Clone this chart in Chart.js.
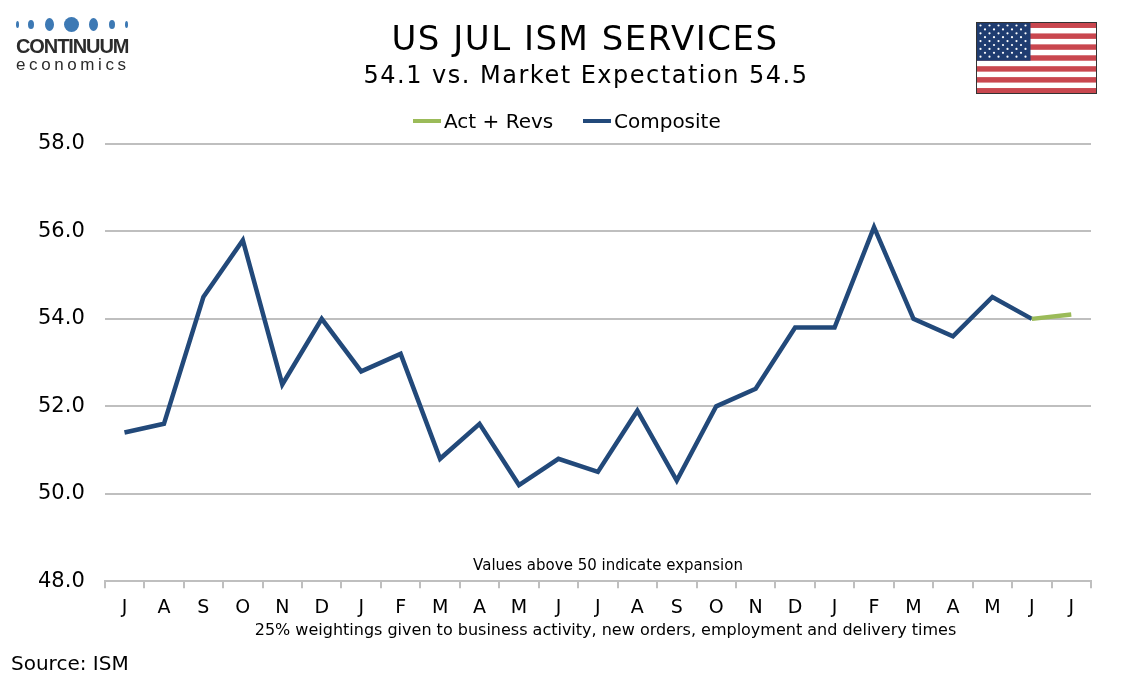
<!DOCTYPE html>
<html lang="en">
<head>
    <meta charset="UTF-8">
    <title>US JUL ISM SERVICES</title>
    <style>
        * {
            margin: 0;
            padding: 0;
            box-sizing: border-box;
        }

        body {
            width: 1134px;
            height: 680px;
            background: #ffffff;
            font-family: 'DejaVu Sans', Verdana, sans-serif;
            color: #000000;
            position: relative;
            overflow: hidden;
        }

        #grafico {
            position: absolute;
            left: 0;
            top: 0;
        }

        .txt {
            position: absolute;
            white-space: nowrap;
        }

        #titulo {
            left: 0;
            width: 1170px;
            top: 18px;
            text-align: center;
            font-size: 34px;
            letter-spacing: 1.5px;
        }

        #subtitulo {
            left: 0;
            width: 1172px;
            top: 61px;
            text-align: center;
            font-size: 24px;
            letter-spacing: 1.5px;
        }

        #legenda {
            position: absolute;
            top: 109px;
            left: 0;
            width: 1134px;
            height: 26px;
            font-size: 20px;
        }

        #legenda .item {
            position: absolute;
            top: 0;
            white-space: nowrap;
        }

        #legenda .linha {
            display: inline-block;
            width: 28px;
            height: 4px;
            vertical-align: middle;
            margin-right: 3px;
            position: relative;
            top: -2px;
        }

        #expansao {
            left: 0;
            width: 1216px;
            top: 556px;
            text-align: center;
            font-size: 15px;
        }

        #pesos {
            left: 0;
            width: 1211px;
            top: 620px;
            text-align: center;
            font-size: 16px;
        }

        #fonte {
            left: 11px;
            top: 651px;
            font-size: 20px;
        }

        #logo {
            position: absolute;
            left: 16px;
            top: 15px;
            width: 112px;
        }

        .pontos {
            position: relative;
            height: 20px;
        }

        .pontos span {
            position: absolute;
            background: #3d79b4;
            border-radius: 50%;
        }

        .marca {
            font-family: 'Liberation Sans', Arial, sans-serif;
            font-weight: bold;
            font-size: 20px;
            color: #2b2b2b;
            letter-spacing: -1.1px;
            line-height: 20px;
            margin-top: 1px;
        }

        .economics {
            font-family: 'Liberation Sans', Arial, sans-serif;
            font-size: 17px;
            color: #2b2b2b;
            letter-spacing: 3.6px;
            line-height: 18px;
        }

        #bandeira {
            position: absolute;
            left: 976px;
            top: 22px;
        }
    </style>
    <script src="https://cdn.jsdelivr.net/npm/chart.js"></script>
</head>
<body>
    <canvas id="grafico" width="1134" height="680"></canvas>

    <div id="logo">
        <div class="pontos">
            <span style="left:0px;top:6px;width:3px;height:7px;"></span>
            <span style="left:12px;top:5px;width:6px;height:9px;"></span>
            <span style="left:29px;top:3px;width:9px;height:13px;"></span>
            <span style="left:48px;top:2px;width:15px;height:15px;"></span>
            <span style="left:73px;top:3px;width:9px;height:13px;"></span>
            <span style="left:93px;top:5px;width:6px;height:9px;"></span>
            <span style="left:109px;top:6px;width:3px;height:7px;"></span>
        </div>
        <div class="marca">CONTINUUM</div>
        <div class="economics">economics</div>
    </div>

    <canvas id="bandeira" width="121" height="72"></canvas>

    <div class="txt" id="titulo">US JUL ISM SERVICES</div>
    <div class="txt" id="subtitulo">54.1 vs. Market Expectation 54.5</div>
    <div id="legenda"></div>
    <div class="txt" id="expansao">Values above 50 indicate expansion</div>
    <div class="txt" id="pesos">25% weightings given to business activity, new orders, employment and delivery times</div>
    <div class="txt" id="fonte">Source: ISM</div>

    <script>
        // meses: jul/2023 ... jul/2025 (iniciais)
        const meses = ['J', 'A', 'S', 'O', 'N', 'D', 'J', 'F', 'M', 'A', 'M', 'J',
                       'J', 'A', 'S', 'O', 'N', 'D', 'J', 'F', 'M', 'A', 'M', 'J', 'J'];

        const composto = [51.4, 51.6, 54.5, 55.8, 52.5, 54.0, 52.8, 53.2, 50.8, 51.6, 50.2, 50.8,
                          50.5, 51.9, 50.3, 52.0, 52.4, 53.8, 53.8, 56.1, 54.0, 53.6, 54.5, 54.0, null];

        const atualRevs = [null, null, null, null, null, null, null, null, null, null, null, null,
                           null, null, null, null, null, null, null, null, null, null, null, 54.0, 54.1];

        const ticksY = [48, 50, 52, 54, 56, 58];

        // bandeira dos EUA
        const fc = document.getElementById('bandeira').getContext('2d');
        const fw = 120, fh = 71;
        const faixa = fh / 13;
        for (let i = 0; i < 13; i++) {
            fc.fillStyle = i % 2 === 0 ? '#c9474f' : '#ffffff';
            fc.fillRect(0.5, 0.5 + i * faixa, fw, faixa + 0.5);
        }
        fc.fillStyle = '#1f3c70';
        fc.fillRect(0.5, 0.5, 54, faixa * 7);
        fc.fillStyle = '#ffffff';
        for (let r = 0; r < 9; r++) {
            const n = r % 2 === 0 ? 6 : 5;
            const x0 = r % 2 === 0 ? 4.5 : 9;
            for (let c = 0; c < n; c++) {
                fc.beginPath();
                fc.arc(x0 + c * 9, 3.5 + r * 3.9, 1.1, 0, Math.PI * 2);
                fc.fill();
            }
        }
        fc.strokeStyle = '#333333';
        fc.lineWidth = 1;
        fc.strokeRect(0.5, 0.5, fw, fh);

        const cinza = '#bfbfbf';

        const grafico = new Chart(document.getElementById('grafico').getContext('2d'), {
            type: 'line',
            data: {
                labels: meses,
                datasets: [{
                    label: 'Act + Revs',
                    data: atualRevs,
                    borderColor: '#9bbb59',
                    backgroundColor: '#9bbb59',
                    borderWidth: 4.5,
                    pointRadius: 0,
                    tension: 0
                }, {
                    label: 'Composite',
                    data: composto,
                    borderColor: '#22497a',
                    backgroundColor: '#22497a',
                    borderWidth: 4.5,
                    pointRadius: 0,
                    tension: 0
                }]
            },
            options: {
                responsive: false,
                animation: false,
                layout: {
                    padding: { top: 144, left: 18, right: 43, bottom: 53 }
                },
                plugins: {
                    legend: { display: false },
                    tooltip: { enabled: false }
                },
                scales: {
                    x: {
                        offset: true,
                        grid: {
                            offset: true,
                            drawOnChartArea: false,
                            drawTicks: true,
                            tickLength: 7,
                            color: cinza,
                            lineWidth: 2
                        },
                        border: { display: true, color: cinza, width: 2 },
                        ticks: {
                            color: '#000000',
                            padding: 8,
                            maxRotation: 0,
                            autoSkip: false,
                            font: { family: 'DejaVu Sans', size: 19 }
                        }
                    },
                    y: {
                        min: 48,
                        max: 58,
                        afterBuildTicks: (axis) => {
                            axis.ticks = ticksY.map(v => ({ value: v }));
                        },
                        grid: {
                            color: cinza,
                            lineWidth: 2,
                            drawTicks: false
                        },
                        border: { display: false },
                        ticks: {
                            color: '#000000',
                            padding: 20,
                            callback: (v) => Number(v).toFixed(1),
                            font: { family: 'DejaVu Sans', size: 21 }
                        }
                    }
                }
            }
        });

        // legenda em HTML, com as cores das séries
        const legenda = document.getElementById('legenda');
        const posLegenda = [413, 583];
        grafico.data.datasets.forEach((ds, i) => {
            const item = document.createElement('div');
            item.className = 'item';
            item.style.left = posLegenda[i] + 'px';
            item.innerHTML = '<span class="linha" style="background:' + ds.borderColor + '"></span>' + ds.label;
            legenda.appendChild(item);
        });
    </script>
</body>
</html>
